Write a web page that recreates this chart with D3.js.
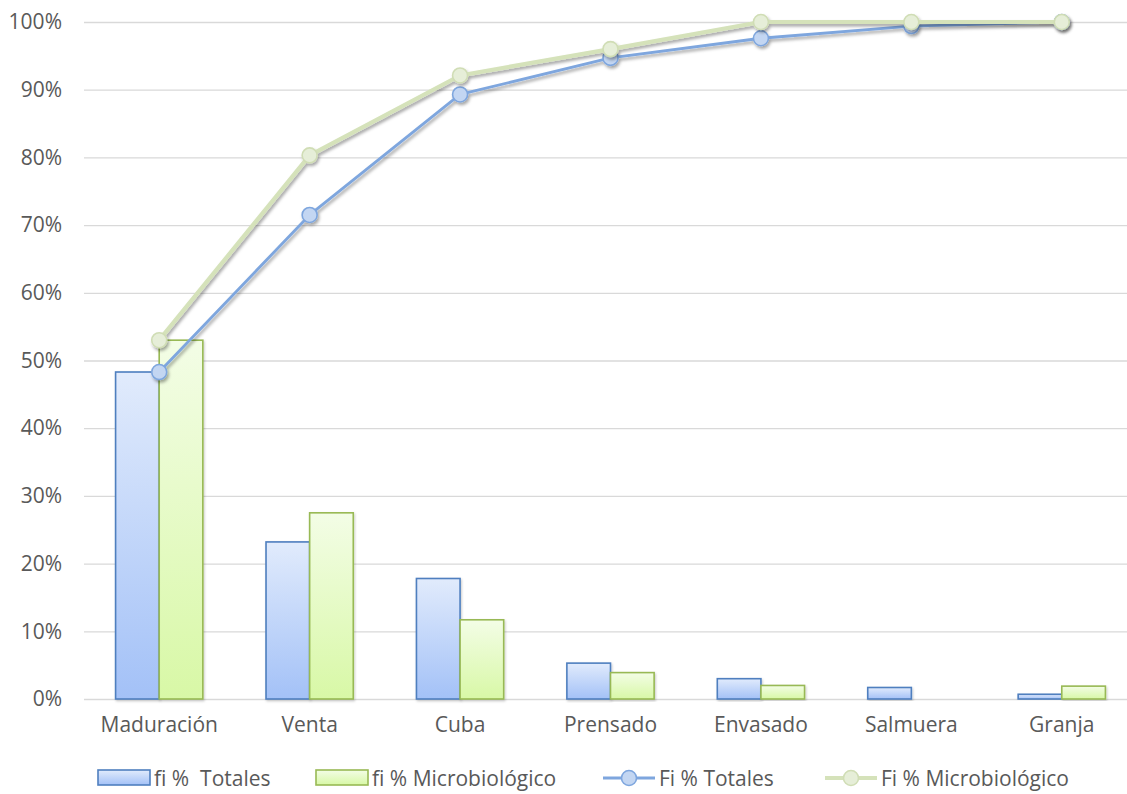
<!DOCTYPE html>
<html>
<head>
<meta charset="utf-8">
<script src="https://cdn.jsdelivr.net/npm/d3@7/dist/d3.min.js"></script>
<style>
  html, body { margin: 0; padding: 0; background: #ffffff; overflow: hidden; }
  svg { display: block; }
  text { font-family: "Open Sans", "Noto Sans", sans-serif; fill: #595959; }
</style>
</head>
<body>
<svg id="chart" width="1127" height="794"></svg>
<script>
// Categories (process stages)
const categories = ["Maduración", "Venta", "Cuba", "Prensado", "Envasado", "Salmuera", "Granja"];

// Relative frequency (%) per stage
const fiTotales = [48.3, 23.2, 17.8, 5.3, 3.0, 1.7, 0.7];
const fiMicro   = [53.0, 27.5, 11.7, 3.9, 2.0, 0.0, 1.9];

// Accumulated frequency (%) per stage
const FiTotales = [48.3, 71.5, 89.3, 94.7, 97.6, 99.4, 100];
const FiMicro   = [53.0, 80.3, 92.1, 96.0, 100, 100, 100];

// Axis ticks
const yTicks = [0, 10, 20, 30, 40, 50, 60, 70, 80, 90, 100];

// Series names for the legend
const seriesNames = ["fi %  Totales", "fi % Microbiológico", "Fi % Totales", "Fi % Microbiológico"];

const svg = d3.select("#chart");
const plot = { left: 84, right: 1137, top: 22, bottom: 699 };

const x0 = d3.scaleBand().domain(categories).range([plot.left, plot.right]).padding(0);
const groupW = x0.bandwidth() * 0.58;
const x1 = d3.scaleBand().domain(["tot", "mic"]).range([-groupW / 2, groupW / 2]).padding(0);
const y = d3.scaleLinear().domain([0, 100]).range([plot.bottom, plot.top]);

const defs = svg.append("defs");
const gBlue = defs.append("linearGradient").attr("id", "gradBlue").attr("x1", 0).attr("y1", 0).attr("x2", 0).attr("y2", 1);
gBlue.append("stop").attr("offset", "0%").attr("stop-color", "#e1ebfc");
gBlue.append("stop").attr("offset", "100%").attr("stop-color", "#a3c1f7");
const gGreen = defs.append("linearGradient").attr("id", "gradGreen").attr("x1", 0).attr("y1", 0).attr("x2", 0).attr("y2", 1);
gGreen.append("stop").attr("offset", "0%").attr("stop-color", "#f3fde6");
gGreen.append("stop").attr("offset", "100%").attr("stop-color", "#d8f8a6");

const shadow = defs.append("filter").attr("id", "shadow").attr("x", "-20%").attr("y", "-20%").attr("width", "140%").attr("height", "140%");
shadow.append("feDropShadow").attr("dx", 1.5).attr("dy", 2.5).attr("stdDeviation", 1.6)
  .attr("flood-color", "#000").attr("flood-opacity", 0.35);
const barShadow = defs.append("filter").attr("id", "barShadow").attr("x", "-10%").attr("y", "-10%").attr("width", "120%").attr("height", "120%");
barShadow.append("feDropShadow").attr("dx", 1).attr("dy", 1.5).attr("stdDeviation", 1.2)
  .attr("flood-color", "#000").attr("flood-opacity", 0.2);

// Horizontal gridlines and y labels
const yAxis = d3.axisLeft(y).tickValues(yTicks).tickSize(-(plot.right - plot.left)).tickFormat(d => d + "%").tickPadding(22);
const ya = svg.append("g").attr("transform", `translate(${plot.left},0)`).call(yAxis);
ya.select(".domain").remove();
ya.selectAll(".tick line").attr("stroke", "#d9d9d9").attr("stroke-width", 1.3);
ya.selectAll(".tick text").attr("font-size", 21).attr("fill", "#595959")
  .style("font-family", "'Open Sans', sans-serif");

// Category labels
const xAxis = d3.axisBottom(x0).tickSize(0).tickPadding(18);
const xa = svg.append("g").attr("transform", `translate(0,${plot.bottom})`).call(xAxis);
xa.select(".domain").remove();
xa.selectAll(".tick text").attr("font-size", 21).attr("fill", "#595959")
  .style("font-family", "'Open Sans', sans-serif");

// Bars
const bars = svg.append("g");
const barData = categories.map((c, i) => ({ c, tot: fiTotales[i], mic: fiMicro[i] }));
const groups = bars.selectAll("g.grp").data(barData).join("g")
  .attr("class", "grp")
  .attr("transform", d => `translate(${x0(d.c) + x0.bandwidth() / 2},0)`);
groups.filter(d => d.tot > 0).append("rect")
  .attr("x", x1("tot")).attr("width", x1.bandwidth())
  .attr("y", d => y(d.tot)).attr("height", d => y(0) - y(d.tot))
  .attr("fill", "url(#gradBlue)").attr("stroke", "#4f7fbf").attr("stroke-width", 1.6)
  .attr("filter", "url(#barShadow)");
groups.filter(d => d.mic > 0).append("rect")
  .attr("x", x1("mic")).attr("width", x1.bandwidth())
  .attr("y", d => y(d.mic)).attr("height", d => y(0) - y(d.mic))
  .attr("fill", "url(#gradGreen)").attr("stroke", "#98b954").attr("stroke-width", 1.6)
  .attr("filter", "url(#barShadow)");

// Accumulated lines
const cx = c => x0(c) + x0.bandwidth() / 2;
const line = d3.line().x(d => cx(d.c)).y(d => y(d.v));

function drawLine(values, stroke, width, mFill, mStroke) {
  const data = categories.map((c, i) => ({ c, v: values[i] }));
  const g = svg.append("g").attr("filter", "url(#shadow)");
  g.append("path").datum(data).attr("d", line)
    .attr("fill", "none").attr("stroke", stroke).attr("stroke-width", width)
    .attr("stroke-linejoin", "round");
  g.selectAll("circle").data(data).join("circle")
    .attr("cx", d => cx(d.c)).attr("cy", d => y(d.v)).attr("r", 7.5)
    .attr("fill", mFill).attr("stroke", mStroke).attr("stroke-width", 1.6);
}
drawLine(FiTotales, "#7ea6de", 2.8, "#c3d6f2", "#7ea6de");
drawLine(FiMicro, "#d5e2ba", 4.2, "#e6eed8", "#d0ddb5");

// Legend
const legend = svg.append("g").attr("transform", "translate(0,776)");
const lg = [
  { x: 98,  kind: "bar", fill: "url(#gradBlue)", stroke: "#4f7fbf" },
  { x: 316, kind: "bar", fill: "url(#gradGreen)", stroke: "#98b954" },
  { x: 603, kind: "line", stroke: "#7ea6de", mFill: "#c3d6f2", mStroke: "#7ea6de", w: 2.8 },
  { x: 825, kind: "line", stroke: "#d5e2ba", mFill: "#e6eed8", mStroke: "#d0ddb5", w: 4.2 }
];
lg.forEach((d, i) => {
  const g = legend.append("g").attr("transform", `translate(${d.x},0)`);
  if (d.kind === "bar") {
    g.append("rect").attr("x", 0).attr("y", -6).attr("width", 52).attr("height", 15)
      .attr("fill", d.fill).attr("stroke", d.stroke).attr("stroke-width", 1.6);
  } else {
    g.append("line").attr("x1", 0).attr("x2", 52).attr("y1", 2).attr("y2", 2)
      .attr("stroke", d.stroke).attr("stroke-width", d.w);
    g.append("circle").attr("cx", 26).attr("cy", 2).attr("r", 7.5)
      .attr("fill", d.mFill).attr("stroke", d.mStroke).attr("stroke-width", 1.6);
  }
  g.append("text").attr("x", 56).attr("y", 2).attr("dy", "0.36em")
    .attr("font-size", 21).attr("fill", "#595959")
    .attr("xml:space", "preserve")
    .text(seriesNames[i]);
});
</script>
</body>
</html>
